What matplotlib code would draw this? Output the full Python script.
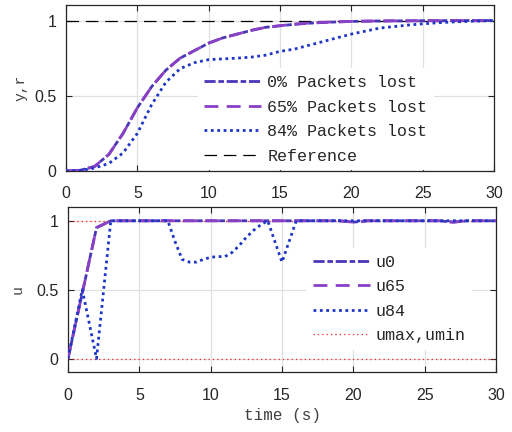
import matplotlib
matplotlib.use('Agg')
import matplotlib.pyplot as plt

# --- data ---
t_y = [0, 1, 2, 3, 4, 5, 6, 7, 8, 9, 10, 11, 12, 13, 14, 15, 16, 17, 18, 19, 20,
       21, 22, 23, 24, 25, 26, 27, 28, 29, 30]
y0 = [0, 0.005, 0.03, 0.11, 0.25, 0.42, 0.56, 0.67, 0.75, 0.80, 0.85, 0.885, 0.91,
      0.935, 0.955, 0.965, 0.975, 0.982, 0.987, 0.991, 0.994, 0.996, 0.997, 0.998,
      0.998, 0.999, 0.999, 1.0, 1.0, 1.0, 1.0]
y65 = [0, 0.005, 0.03, 0.11, 0.25, 0.42, 0.56, 0.67, 0.75, 0.80, 0.85, 0.885, 0.91,
       0.935, 0.955, 0.966, 0.976, 0.983, 0.988, 0.991, 0.994, 0.996, 0.997, 0.998,
       0.998, 0.999, 0.999, 1.0, 1.0, 1.0, 1.0]
y84 = [0, 0.003, 0.02, 0.05, 0.12, 0.25, 0.44, 0.59, 0.68, 0.72, 0.74, 0.745, 0.75,
       0.757, 0.77, 0.795, 0.81, 0.835, 0.86, 0.885, 0.91, 0.93, 0.95, 0.96, 0.97,
       0.978, 0.985, 0.99, 0.994, 0.997, 1.0]

t_u = [0, 2, 3, 19, 20, 21, 26, 27, 28, 30]
u0 = [0, 0.95, 1, 1, 0.99, 1, 1, 0.99, 1, 1]
u65 = [0, 0.95, 1, 1, 0.99, 1, 1, 0.99, 1, 1]
t_u84 = [0, 1, 2, 3, 7, 7.5, 8, 8.5, 9, 9.5, 10, 10.5, 11, 11.5, 12, 12.5, 13,
         13.5, 14, 15, 16, 30]
u84 = [0, 0.5, 0, 1, 1, 0.85, 0.72, 0.70, 0.70, 0.72, 0.735, 0.74, 0.74, 0.77,
       0.82, 0.88, 0.93, 0.97, 1.0, 0.70, 1.0, 1.0]
umax = 1
umin = 0

c0 = '#4a36b8'
c65 = '#8a40c4'
c84 = '#1f35c8'
mono = 'Liberation Mono'
plt.rcParams['font.family'] = ['Liberation Sans', 'DejaVu Sans']

fig = plt.figure(figsize=(5.12, 4.32), dpi=100)
ax1 = fig.add_axes([66 / 512, 1 - 171 / 432, 428 / 512, 165.5 / 432])
ax2 = fig.add_axes([68 / 512, 1 - 372.3 / 432, 428 / 512, 165.3 / 432])


def style(ax):
    ax.set_xlim(0, 30)
    ax.set_xticks([0, 5, 10, 15, 20, 25, 30])
    ax.set_yticks([0, 0.5, 1])
    ax.set_yticklabels(['0', '0.5', '1'])
    ax.grid(True, color='#e0e0e0', lw=0.9)
    ax.set_axisbelow(True)
    ax.tick_params(direction='in', top=True, right=True, length=4, width=0.8,
                   labelsize=11.5, colors='#262626')
    ax.tick_params(axis='x', pad=11)
    ax.tick_params(axis='y', pad=7)
    for s in ax.spines.values():
        s.set_color('#262626')
        s.set_linewidth(0.9)


def legend(ax, x, y):
    leg = ax.legend(loc='upper left', bbox_to_anchor=(x, y), prop={'family': mono, 'size': 12},
                    frameon=True, fancybox=False, edgecolor='none', facecolor='white',
                    framealpha=1, handlelength=3.4, handletextpad=0.36, labelspacing=0.57,
                    borderpad=0.4, borderaxespad=0)
    for txt in leg.get_texts():
        txt.set_color('#262626')


ax1.plot(t_y, y0, color=c0, lw=2, dashes=(4, 1, 2, 1), label='0% Packets lost', zorder=3)
ax1.plot(t_y, y65, color=c65, lw=2, dashes=(5, 3), label='65% Packets lost', zorder=4)
ax1.plot(t_y, y84, color=c84, lw=2, dashes=(1, 1.3), label='84% Packets lost', zorder=5)
ax1.axhline(1, color='black', lw=0.9, dashes=(10, 5.5), label='Reference', zorder=2)
style(ax1)
ax1.set_ylim(0, 1.1)
ax1.set_ylabel('y,r', family=mono, fontsize=10.5, color='#404040', labelpad=5)
legend(ax1, 0.308, 0.62)

ax2.plot(t_u, u0, color=c0, lw=2, dashes=(4, 1, 2, 1), label='u0', zorder=3)
ax2.plot(t_u, u65, color=c65, lw=2, dashes=(5, 3), label='u65', zorder=4)
ax2.plot(t_u84, u84, color=c84, lw=2, dashes=(1, 1.3), label='u84', zorder=5)
ax2.axhline(umax, color='#ff2020', lw=0.9, dashes=(1, 2.5), label='umax,umin', zorder=2)
ax2.axhline(umin, color='#ff2020', lw=0.9, dashes=(1, 2.5), zorder=2)
style(ax2)
ax2.set_ylim(-0.1, 1.1)
ax2.set_ylabel('u', family=mono, fontsize=10.5, color='#404040', labelpad=8)
ax2.set_xlabel('time (s)', family=mono, fontsize=11.5, color='#404040', labelpad=4)
legend(ax2, 0.557, 0.752)

fig.savefig('out.png', dpi=100)
